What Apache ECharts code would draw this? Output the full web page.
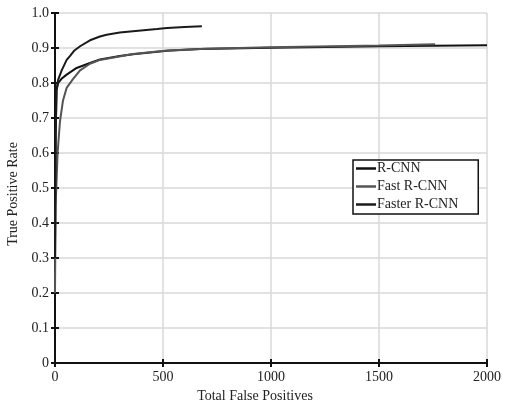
<!DOCTYPE html>
<html>
<head>
<meta charset="utf-8">
<script src="https://cdn.jsdelivr.net/npm/echarts@6/dist/echarts.min.js"></script>
<style>
  html, body { margin: 0; padding: 0; background: #fff; }
  #chart { width: 508px; height: 407px; }
</style>
</head>
<body>
<div id="chart"></div>
<script>
// 数据: [total false positives, true positive rate]
const seriesNames = ['R-CNN', 'Fast R-CNN', 'Faster R-CNN']
const rcnnData = [
  [0, 0.35], [3, 0.65], [7, 0.78], [15, 0.8], [30, 0.812], [54, 0.824], [100, 0.843],
  [162, 0.857], [208, 0.867], [300, 0.877], [361, 0.882], [519, 0.892], [671, 0.897],
  [1000, 0.901], [1500, 0.905], [2000, 0.908]
]
const fastData = [
  [0, 0.2], [3, 0.45], [12, 0.6], [23, 0.69], [37, 0.75], [54, 0.786], [83, 0.811], [116, 0.836],
  [162, 0.855], [208, 0.866], [361, 0.883], [519, 0.893], [700, 0.898], [1000, 0.902],
  [1500, 0.907], [1760, 0.911]
]
const fasterData = [
  [0, 0.3], [3, 0.65], [7, 0.78], [14, 0.808], [31, 0.836], [54, 0.866], [69, 0.877],
  [90, 0.893], [116, 0.905], [162, 0.922], [208, 0.933], [239, 0.938], [300, 0.944],
  [361, 0.948], [472, 0.954], [519, 0.957], [600, 0.96], [680, 0.962]
]
const lineColors = ['#111111', '#555555', '#1a1a1a']
const xTicks = [0, 500, 1000, 1500, 2000]

const font = 'Liberation Serif'
const chart = echarts.init(document.getElementById('chart'))

// 坐标轴公共样式
const axisLine = { show: true, lineStyle: { color: '#111', width: 2 } }
const axisTick = { show: true, inside: true, length: 4, lineStyle: { color: '#111', width: 2 } }
const splitLine = { show: true, lineStyle: { color: '#d9d9d9', width: 1.5 } }

const option = {
  animation: false,
  backgroundColor: '#fff',
  grid: { left: 55, right: 21, top: 13, bottom: 44, outerBoundsMode: 'none', containLabel: false },
  legend: {
    data: seriesNames.map(n => ({ name: n, icon: 'rect' })),
    orient: 'vertical',
    left: 353,
    top: 160,
    itemWidth: 20,
    itemHeight: 2.5,
    itemGap: 3,
    padding: [1, 20, 2, 3],
    borderColor: '#111',
    borderWidth: 1.5,
    backgroundColor: '#fff',
    textStyle: { fontFamily: font, fontSize: 14, lineHeight: 15, color: '#222', padding: [0, 0, 0, -4] }
  },
  xAxis: [
    {
      type: 'value',
      min: 0,
      max: 2000,
      interval: 500,
      name: 'Total False Positives',
      nameLocation: 'middle',
      nameGap: 22,
      nameTextStyle: { fontFamily: font, fontSize: 14, color: '#222', padding: [0, 32, 0, 0] },
      axisLine, axisTick, splitLine,
      axisLabel: {
        fontFamily: font, fontSize: 14, color: '#222', margin: 7,
        formatter: v => (xTicks.includes(v) ? String(v) : '')
      }
    },
    {
      type: 'value', position: 'top', min: 0, max: 2000, interval: 500,
      axisLine, axisTick, splitLine: { show: false }, axisLabel: { show: false }
    }
  ],
  yAxis: [
    {
      type: 'value',
      min: 0,
      max: 1,
      interval: 0.1,
      name: 'True Positive Rate',
      nameLocation: 'middle',
      nameGap: 29,
      nameTextStyle: { fontFamily: font, fontSize: 14, color: '#222', padding: [0, 12, 0, 0] },
      axisLine, axisTick, splitLine,
      axisLabel: {
        fontFamily: font, fontSize: 14, color: '#222', margin: 6,
        formatter: v => (v === 0 ? '0' : v.toFixed(1))
      }
    },
    {
      type: 'value', position: 'right', min: 0, max: 1, interval: 0.1,
      axisLine, axisTick, splitLine: { show: false }, axisLabel: { show: false }
    }
  ],
  series: [rcnnData, fastData, fasterData].map((d, i) => ({
    name: seriesNames[i],
    type: 'line',
    data: d,
    showSymbol: false,
    symbol: 'none',
    color: lineColors[i],
    lineStyle: { width: 2, color: lineColors[i] }
  }))
}
chart.setOption(option)
</script>
</body>
</html>
